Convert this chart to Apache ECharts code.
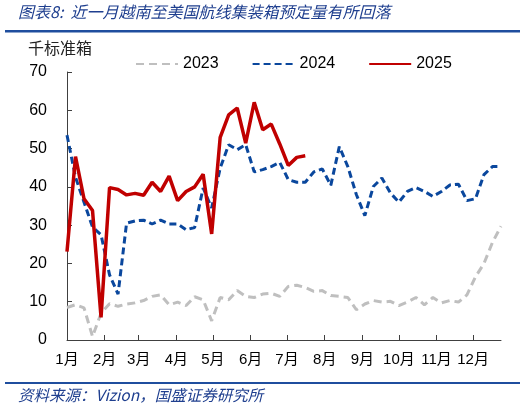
<!DOCTYPE html>
<html>
<head>
<meta charset="utf-8">
<script src="https://cdn.jsdelivr.net/npm/echarts@6/dist/echarts.min.js"></script>
<style>
html,body{margin:0;padding:0;background:#fff;}
#c{width:526px;height:409px;}
</style>
</head>
<body>
<div id="c"></div>
<script>
// week index (weekly data points, day-of-year = week*7)
const weeks = [0,1,2,3,4,5,6,7,8,9,10,11,12,13,14,15,16,17,18,19,20,21,22,23,24,25,26,27,28,29,30,31,32,33,34,35,36,37,38,39,40,41,42,43,44,45,46,47,48,49,50,51];
const monthStartDays = [0,31,59,90,120,151,181,212,243,273,304,334];
const monthLabels = ['1月','2月','3月','4月','5月','6月','7月','8月','9月','10月','11月','12月'];
const yTicks = [0,10,20,30,40,50,60,70];
const seriesNames = ['2023','2024','2025'];

const s2023 = [8.5,9.2,8.4,0.9,7.0,9.5,8.8,9.4,9.7,10.3,11.4,11.8,9.2,9.9,9.0,11.3,10.5,5.0,11.1,10.5,12.9,11.4,11.1,12.0,12.2,11.4,14.0,14.3,13.7,12.7,12.9,11.6,11.4,11.1,7.9,9.4,10.3,9.9,10.1,9.0,9.9,11.1,9.2,11.1,9.7,10.3,9.9,11.8,16.5,20.0,25.5,29.7];
const s2024 = [53.5,42.5,36.0,29.5,27.5,17.0,12.0,30.5,31.1,31.3,30.3,31.3,30.3,30.3,28.8,29.4,39.7,34.5,44.9,51.0,49.7,51.0,43.9,44.5,45.3,46.4,41.9,41.2,41.2,43.9,44.7,40.4,50.5,45.3,38.0,32.5,40.1,42.3,38.4,36.0,38.8,39.8,38.8,37.5,38.8,40.5,40.7,36.4,36.9,43.2,45.3,45.3];
const s2025 = [23.1,47.9,36.9,33.8,5.9,39.8,39.3,37.9,38.3,37.8,41.2,38.8,42.8,36.4,38.8,40.0,43.3,27.7,52.9,58.8,60.6,51.4,62.1,54.9,56.4,51.2,45.6,47.7,48.1];

function pairs(vals){ return vals.map((v,i)=>[weeks[i]*7, v]); }

const chart = echarts.init(document.getElementById('c'), null, {renderer:'canvas'});
const txt = '#000';
const font = '"Liberation Sans", "Noto Sans CJK SC", sans-serif';
chart.setOption({
  animation:false,
  backgroundColor:'#fff',
  textStyle:{fontFamily:font},
  graphic:[
    {type:'text', left:18, top:4, style:{text:'图表8:  近一月越南至美国航线集装箱预定量有所回落', fill:'#1F3F8F', font:'italic 16px "Noto Sans CJK SC", sans-serif'}},
    {type:'rect', shape:{x:5,y:30,width:515,height:2.5}, style:{fill:'#1F4E9E'}},
    {type:'text', left:28, top:40, style:{text:'千标准箱', fill:'#222', font:'16px "Noto Sans CJK SC", sans-serif'}},
    {type:'rect', shape:{x:5,y:382,width:515,height:2}, style:{fill:'#1F4E9E'}},
    {type:'text', left:18, top:387, style:{text:'资料来源：Vizion，国盛证券研究所', fill:'#1F3F8F', font:'italic 15.5px "Noto Sans CJK SC", sans-serif'}}
  ],
  legend:{
    left:130, top:51, itemWidth:42, itemHeight:10, itemGap:33,
    itemStyle:{opacity:0},
    textStyle:{fontSize:16, color:txt, fontFamily:font},
    data:seriesNames
  },
  grid:{left:67, right:25, top:72, bottom:69, outerBoundsMode:'none'},
  xAxis:{
    type:'value', min:0, max:357,
    axisLine:{lineStyle:{color:'#404040', width:1}},
    axisTick:{show:true, inside:true, length:5, customValues:monthStartDays, lineStyle:{color:'#404040'}},
    axisLabel:{customValues:monthStartDays, color:txt, fontSize:15, margin:12,
      formatter:(v)=>monthLabels[monthStartDays.indexOf(v)] || ''},
    splitLine:{show:false}
  },
  yAxis:{
    type:'value', min:0, max:70, interval:10,
    axisLine:{show:true, lineStyle:{color:'#404040', width:1}},
    axisTick:{show:true, inside:true, length:5, lineStyle:{color:'#404040'}},
    axisLabel:{color:txt, fontSize:16, margin:20, formatter:(v)=> yTicks.includes(v)? String(v):''},
    splitLine:{show:false}
  },
  series:[
    {name:'2023', type:'line', data:pairs(s2023), symbol:'none', z:1,
      lineStyle:{color:'#BFBFBF', width:3, type:[8,5]}, itemStyle:{color:'#BFBFBF'}},
    {name:'2024', type:'line', data:pairs(s2024), symbol:'none', z:2,
      lineStyle:{color:'#0A479D', width:3, type:[7,4]}, itemStyle:{color:'#0A479D'}},
    {name:'2025', type:'line', data:pairs(s2025), symbol:'none', z:3,
      lineStyle:{color:'#C00000', width:3.5}, itemStyle:{color:'#C00000'}}
  ]
});
</script>
</body>
</html>
